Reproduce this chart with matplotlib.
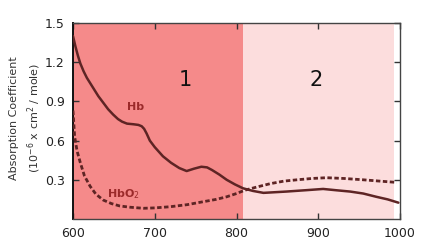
import matplotlib
matplotlib.use("Agg")
import matplotlib.pyplot as plt

hb_wl = [600, 603, 606, 609, 613, 617, 621, 626, 631, 637, 643, 649, 655, 660, 666, 674, 680, 684, 687, 690, 694, 700, 710, 720, 730, 739, 748, 757, 764, 770, 779, 788, 798, 808, 820, 833, 847, 861, 884, 906, 922, 939, 955, 971, 985, 998]
hb_val = [1.40, 1.32, 1.25, 1.19, 1.13, 1.08, 1.04, 0.99, 0.94, 0.89, 0.84, 0.80, 0.765, 0.745, 0.73, 0.725, 0.72, 0.71, 0.69, 0.655, 0.60, 0.55, 0.48, 0.43, 0.39, 0.367, 0.385, 0.40, 0.395, 0.375, 0.34, 0.30, 0.265, 0.235, 0.215, 0.20, 0.205, 0.21, 0.22, 0.23, 0.22, 0.21, 0.195, 0.17, 0.15, 0.125]

hbo2_wl = [600, 602, 605, 609, 614, 621, 628, 637, 647, 657, 670, 686, 700, 719, 740, 759, 775, 788, 800, 810, 825, 841, 858, 874, 892, 910, 932, 955, 975, 996]
hbo2_val = [0.83, 0.63, 0.52, 0.43, 0.33, 0.25, 0.19, 0.145, 0.118, 0.10, 0.09, 0.082, 0.085, 0.094, 0.11, 0.132, 0.15, 0.17, 0.195, 0.22, 0.245, 0.27, 0.29, 0.30, 0.31, 0.316, 0.31, 0.30, 0.29, 0.28]

xticks = [600, 700, 800, 900, 1000]
yticks = [0.3, 0.6, 0.9, 1.2, 1.5]
region1 = (600, 808)
region2 = (808, 993)

fig = plt.figure(figsize=(4.21, 2.43), dpi=100)
ax = fig.add_axes([73/421, 1-219/243, 327/421, 196/243])

ax.axvspan(*region1, color="#F58A8A", lw=0, zorder=0)
ax.axvspan(*region2, color="#FCDDDD", lw=0, zorder=0)

line_col = "#5E2424"
ax.plot(hb_wl, hb_val, color=line_col, lw=1.8, zorder=3, solid_capstyle="round", solid_joinstyle="round")
ax.plot(hbo2_wl, hbo2_val, color=line_col, lw=2.0, ls=(0, (1.6, 0.9)), zorder=3)

ax.text(676, 0.86, "Hb", color="#9B2A2A", fontsize=8, fontweight="bold", ha="center", va="center")
ax.text(662, 0.19, "HbO$_2$", color="#9B2A2A", fontsize=8, fontweight="bold", ha="center", va="center")
ax.text(737, 1.06, "1", fontsize=15, ha="center", va="center", color="#111111")
ax.text(898, 1.06, "2", fontsize=15, ha="center", va="center", color="#111111")

ax.set_xlim(600, 1000)
ax.set_ylim(0, 1.5)
ax.set_xticks(xticks)
ax.set_yticks(yticks)
ax.set_xticklabels([str(v) for v in xticks])
ax.set_yticklabels([f"{v:.1f}" for v in yticks])
ax.tick_params(direction="in", length=4, width=1, labelsize=9, top=True, right=True,
               color="#333333", labelcolor="#222222", pad=6)
for s in ax.spines.values():
    s.set_color("#444444")
    s.set_linewidth(1.0)
ax.spines["left"].set_color("#111111")
ax.spines["left"].set_linewidth(1.4)

fig.text(14/421, 1-118/243, "Absorption Coefficient", rotation=90, fontsize=8, ha="center", va="center", color="#333333")
fig.text(34/421, 1-118/243, "(10$^{-6}$ x cm$^2$ / mole)", rotation=90, fontsize=8, ha="center", va="center", color="#333333")

fig.savefig("out.png", dpi=100)
